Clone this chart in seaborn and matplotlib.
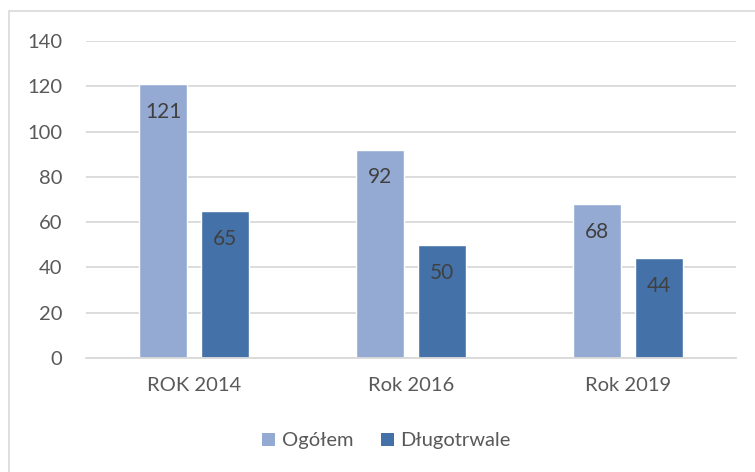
import matplotlib
matplotlib.use("Agg")
import matplotlib.pyplot as plt
import seaborn as sns
import pandas as pd
from matplotlib.patches import Rectangle, Patch

categories = ["ROK 2014", "Rok 2016", "Rok 2019"]
series_names = ["Ogółem", "Długotrwale"]
ogolem = [121, 92, 68]
dlugotrwale = [65, 50, 44]
yticks = [0, 20, 40, 60, 80, 100, 120, 140]

colors = ["#95AAD2", "#4472A8"]

df = pd.DataFrame({
    "rok": categories * 2,
    "seria": [series_names[0]] * 3 + [series_names[1]] * 3,
    "wartosc": ogolem + dlugotrwale,
})

sns.set_style("white")
plt.rcParams["font.family"] = ["Lato", "DejaVu Sans"]

fig = plt.figure(figsize=(7.55, 4.72), dpi=100)
fig.patches.append(Rectangle((9 / 755, -0.1), 1.2, 1 - 11 / 472 + 0.1,
                             transform=fig.transFigure, fill=False,
                             edgecolor="#D9D9D9", linewidth=1.2))
ax = fig.add_axes([86 / 755, 1 - 358 / 472, 650 / 755, (358 - 41) / 472])

sns.barplot(data=df, x="rok", y="wartosc", hue="seria", palette=colors,
            width=0.571, gap=0.226, ax=ax, legend=False, saturation=1)

ax.set_ylim(0, 140)
ax.set_xlim(-0.5, 2.5)
ax.set_yticks(yticks)
ax.yaxis.grid(True, color="#D9D9D9", linewidth=1.3)
ax.set_axisbelow(True)
for s in ["left", "top", "right"]:
    ax.spines[s].set_visible(False)
ax.spines["bottom"].set_color("#D9D9D9")
ax.spines["bottom"].set_linewidth(1.3)
ax.set_xlabel("")
ax.set_ylabel("")
ax.tick_params(axis="y", length=0, pad=17, labelsize=14.5, labelcolor="#595959")
ax.tick_params(axis="x", length=0, pad=14, labelsize=14.5, labelcolor="#595959")

for cont in ax.containers:
    for p in cont.patches:
        h = p.get_height()
        ax.annotate(f"{int(round(h))}", (p.get_x() + p.get_width() / 2, h),
                    xytext=(0, -20), textcoords="offset points",
                    ha="center", va="center", fontsize=15, color="#404040")

handles = [Patch(facecolor=c, edgecolor="none") for c in colors]
fig.legend(handles, series_names, loc="center", bbox_to_anchor=(0.512, 0.066),
           ncol=2, frameon=False, fontsize=14.5, handlelength=0.65, handleheight=0.65,
           handletextpad=0.3, columnspacing=1.4, labelcolor="#595959")

fig.savefig("out.png", dpi=100)
